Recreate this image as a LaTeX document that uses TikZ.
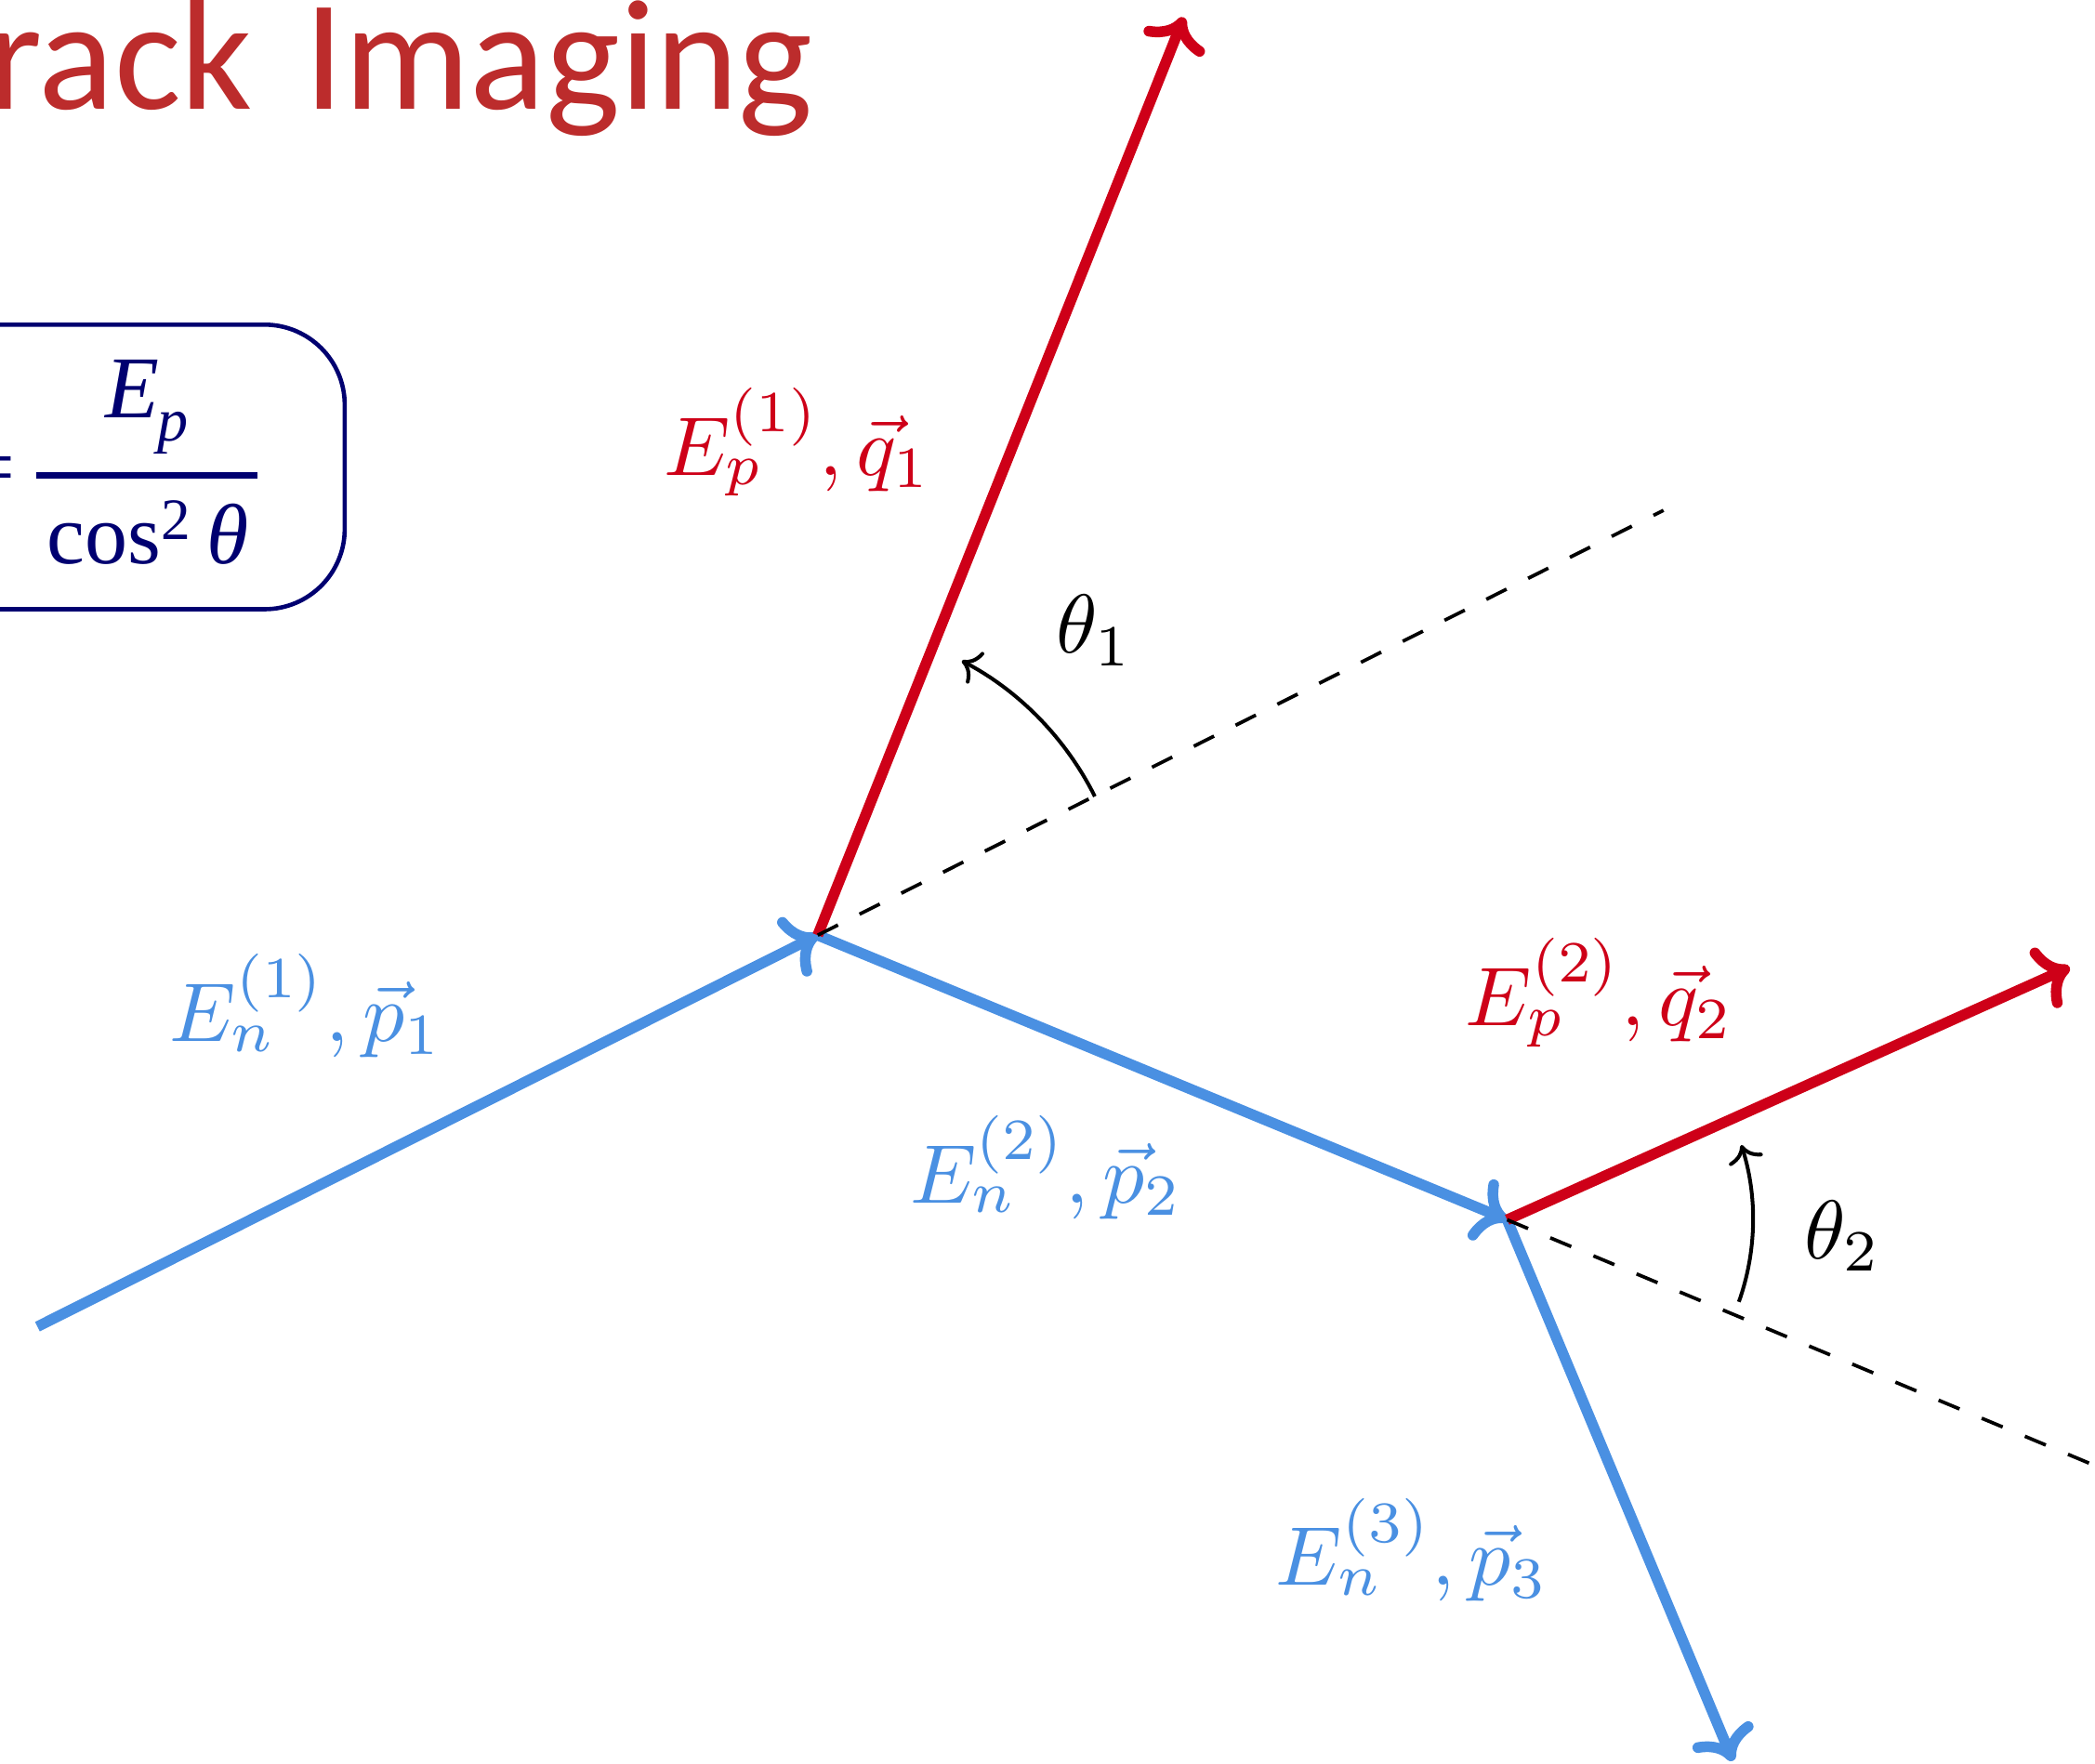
\documentclass[tikz,border=0pt]{standalone}
\usepackage{fontspec}
\usepackage{amsmath}
\usepackage{graphicx}
\usetikzlibrary{arrows.meta}
\newfontfamily\titlefont{Carlito}
\newfontfamily\timesf{Liberation Serif}
\definecolor{tred}{RGB}{206,0,24}
\definecolor{tblue}{RGB}{74,144,226}
\definecolor{titlered}{RGB}{188,44,44}
\definecolor{navyb}{RGB}{0,0,112}
\newcommand{\bigmath}[1]{\scalebox{3.12}{$#1$}}
\begin{document}
\begin{tikzpicture}[x=0.5pt,y=-0.5pt,
  blueline/.style={draw=tblue,line width=4pt},
  redline/.style={draw=tred,line width=4pt},
  dashline/.style={draw=black,line width=1.3pt,dash pattern=on 8.5pt off 9pt},
  anglearc/.style={draw=black,line width=1.4pt,-{Computer Modern Rightarrow[scale=1.35]}},
  lbl/.style={inner sep=0pt,font=\fontsize{10}{12}\selectfont},
  tip/.style={-{Computer Modern Rightarrow[scale=1.12]}}]
\useasboundingbox (0,0) rectangle (1568,1320);
\clip (0,0) rectangle (1568,1320);
% title
\node[anchor=base east,inner sep=0pt,text=titlered,font=\titlefont\fontsize{59}{66}\selectfont] (title) at (609,82) {T\kern12pt rack\hspace{6pt} Imaging};
% formula box
\draw[draw=navyb,line width=1.6pt,rounded corners=30pt] (-200,243) rectangle (258,456);
\node[anchor=base east,inner sep=0pt,text=navyb,font=\timesf\fontsize{32}{36}\selectfont] (eq) at (12,371) {=};
\node[anchor=base,inner sep=0pt,text=navyb,font=\timesf\fontsize{33}{36}\selectfont] (num) at (110,313) {\itshape E\kern-0.02em\raisebox{-8.5pt}{\fontsize{23}{23}\selectfont p}};
\coordinate (barl) at (27,356);
\coordinate (barr) at (193,356);
\draw[draw=navyb,line width=2.5pt] (barl) -- (barr);
\node[anchor=base west,inner sep=0pt,text=navyb,font=\timesf\fontsize{32}{36}\selectfont] (den) at (35,422) {cos\raisebox{9pt}{\fontsize{22}{22}\selectfont 2}\hspace{6pt}{\itshape θ}};
% points
\coordinate (s0) at (28,993);
\coordinate (v1) at (612,700);
\coordinate (v2) at (1128,913);
\coordinate (q1) at (886,13);
\coordinate (d1) at (1245,382);
\coordinate (q2) at (1549,724);
\coordinate (d2) at (1568,1097);
\coordinate (p3) at (1297,1318);
% tracks
\draw[blueline,tip] (s0) -- (v1);
\draw[blueline,tip] (v1) -- (v2);
\draw[blueline,tip] (v2) -- (p3);
\draw[redline,tip] (v1) -- (q1);
\draw[redline,tip] (v2) -- (q2);
\draw[dashline] (v1) -- (d1);
\draw[dashline] (v2) -- (d2);
% angles
\draw[anglearc] (v1) ++(-26.6:232) arc[start angle=-26.6,end angle=-62.3,radius=232];
\draw[anglearc] (v2) ++(19.5:184) arc[start angle=19.5,end angle=-17.7,radius=184];
\node[lbl] (th1) at (819,472) {\bigmath{\theta_1}};
\node[lbl] (th2) at (1379,925) {\bigmath{\theta_2}};
% labels
\node[lbl,text=tred] (lq1) at (597,331) {\bigmath{E_p^{(1)}, \vec{q}_1}};
\node[lbl,text=tblue] (lp1) at (229,753) {\bigmath{E_n^{(1)}, \vec{p}_1}};
\node[lbl,text=tblue] (lp2) at (783,874) {\bigmath{E_n^{(2)}, \vec{p}_2}};
\node[lbl,text=tred] (lq2) at (1197,743) {\bigmath{E_p^{(2)}, \vec{q}_2}};
\node[lbl,text=tblue] (lp3) at (1057,1160) {\bigmath{E_n^{(3)}, \vec{p}_3}};
\end{tikzpicture}
\end{document}
